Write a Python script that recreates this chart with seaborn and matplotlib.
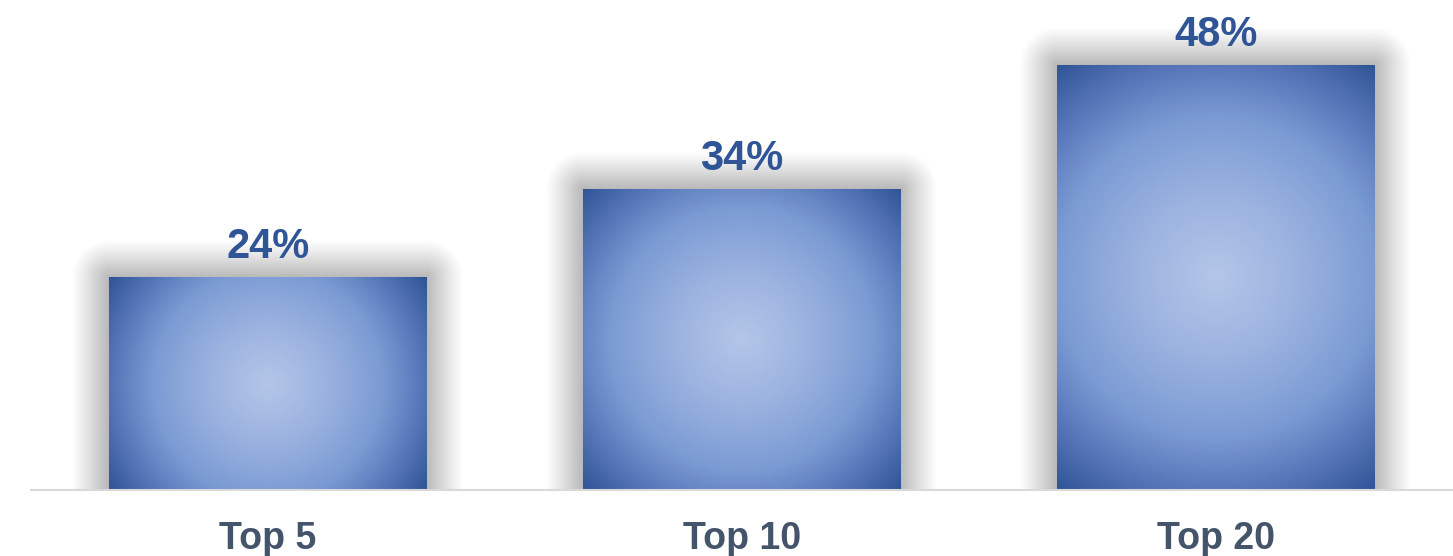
import numpy as np
import pandas as pd
import matplotlib
matplotlib.use("Agg")
import matplotlib.pyplot as plt
import seaborn as sns
from matplotlib.colors import LinearSegmentedColormap

# ----------------------------------------------------------
# DATA
# ----------------------------------------------------------
categories = ["Top 5", "Top 10", "Top 20"]
shares = [24, 34, 48]
value_labels = ["24%", "34%", "48%"]

df = pd.DataFrame({"group": categories, "share": shares})

# ----------------------------------------------------------
# STYLE
# ----------------------------------------------------------
sns.set_theme(style="white")
plt.rcParams["font.family"] = ["Liberation Sans", "DejaVu Sans"]

W, H = 1453, 556
fig = plt.figure(figsize=(W / 100, H / 100), dpi=100)
ax = fig.add_axes([31 / W, 66 / H, (W - 31) / W, 490 / H])

YMAX = 55.3
sns.barplot(data=df, x="group", y="share", order=categories, width=0.669,
            color="#2f5597", saturation=1, linewidth=0, edgecolor="none",
            ax=ax, zorder=2)
ax.set_xlim(-0.5, 2.5)
ax.set_ylim(0, YMAX)

px_x = (W - 31) / 3.0      # pixels per x unit
px_y = 490 / YMAX          # pixels per y unit

grad = LinearSegmentedColormap.from_list(
    "bar_grad",
    [(0.0, "#b4c6e8"), (0.3, "#9cb3e0"), (0.6, "#7b9bd4"),
     (0.8, "#5877ba"), (1.0, "#2f5597")],
)

# ----------------------------------------------------------
# SHADOW GLOW + RADIAL GRADIENT FILL
# ----------------------------------------------------------
for i, patch in enumerate(ax.patches):
    x0 = patch.get_x()
    w = patch.get_width()
    h = patch.get_height()
    x1 = x0 + w
    wpx, hpx = w * px_x, h * px_y

    # soft gray glow around the bar
    m = 40
    xs = np.arange(-m, wpx + m) + 0.5
    ys = np.arange(0, hpx + m) + 0.5
    X, Y = np.meshgrid(xs, ys)
    dx = np.maximum(np.maximum(-X, X - wpx), 0)
    dy = np.maximum(Y - hpx, 0)
    d = np.hypot(dx, dy)
    alpha = 0.28 * np.clip(1 - d / 38.0, 0, 1) ** 1.1
    rgba = np.zeros(X.shape + (4,))
    rgba[..., 3] = alpha
    ax.imshow(rgba, extent=(x0 - m / px_x, x1 + m / px_x, 0, h + m / px_y),
              origin="lower", aspect="auto", interpolation="bilinear", zorder=1)

    # radial gradient clipped to the bar
    gx = np.linspace(0, wpx, int(wpx))
    gy = np.linspace(0, hpx, int(hpx))
    GX, GY = np.meshgrid(gx, gy)
    half_diag = np.hypot(wpx / 2, hpx / 2)
    r = np.hypot(GX - wpx / 2, GY - hpx / 2) / half_diag
    img = ax.imshow(grad(np.clip(r, 0, 1)), extent=(x0, x1, 0, h),
                    origin="lower", aspect="auto", interpolation="bilinear",
                    zorder=3)
    img.set_clip_path(patch)

    ax.text(x0 + w / 2, h + 19 / px_y, value_labels[i],
            ha="center", va="baseline", fontsize=30, fontweight="bold",
            color="#2f5597", zorder=4)

ax.set_xlim(-0.5, 2.5)
ax.set_ylim(0, YMAX)

# ----------------------------------------------------------
# AXES
# ----------------------------------------------------------
ax.set_xlabel("")
ax.set_ylabel("")
ax.set_yticks([])
ax.tick_params(axis="x", length=0, pad=22)
for lab in ax.get_xticklabels():
    lab.set_fontsize(27)
    lab.set_fontweight("bold")
    lab.set_color("#44546a")

for side in ["top", "right", "left"]:
    ax.spines[side].set_visible(False)
ax.spines["bottom"].set_color("#d9d9d9")
ax.spines["bottom"].set_linewidth(1.5)
ax.spines["bottom"].set_zorder(5)

fig.savefig("out.png", dpi=100)
